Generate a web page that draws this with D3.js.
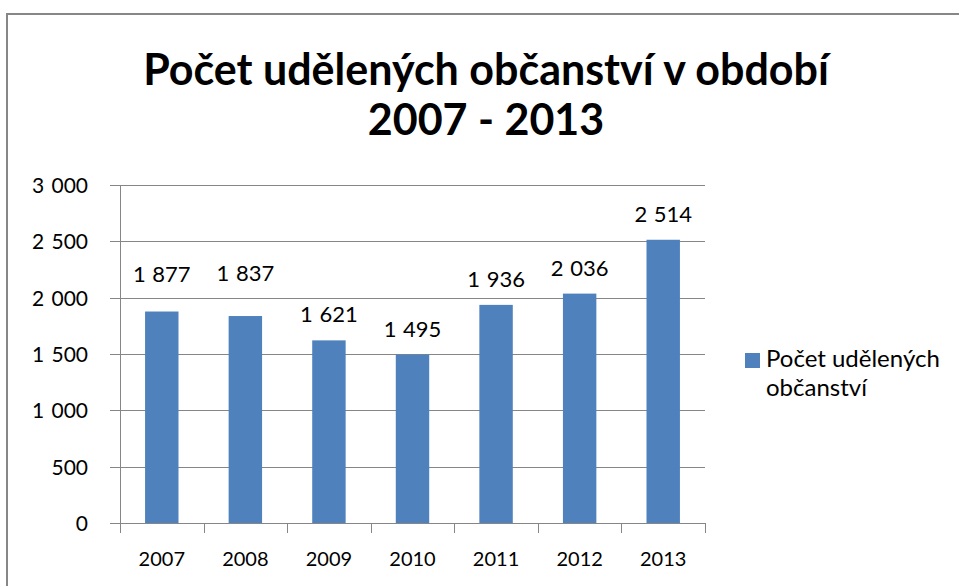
<!DOCTYPE html>
<html>
<head>
<meta charset="utf-8">
<script src="https://cdn.jsdelivr.net/npm/d3@7"></script>
<style>
  body { margin: 0; background: #fff; }
  svg { display: block; font-family: Lato, "Open Sans", sans-serif; }
</style>
</head>
<body>
<svg width="959" height="586"></svg>
<script>
const years = ["2007", "2008", "2009", "2010", "2011", "2012", "2013"];
const counts = [1877, 1837, 1621, 1495, 1936, 2036, 2514];
const yTicks = [0, 500, 1000, 1500, 2000, 2500, 3000];
const titleLines = ["Počet udělených občanství v období", "2007 - 2013"];
const legendLines = ["Počet udělených", "občanství"];

// the first two value labels were dragged up a bit in the original
const labelLift = [12, 17, 0, 0, 0, 0, 0];

const barColor = "#4F81BD";
const gridColor = "#868686";

let svg = d3.select("svg");

// chart frame
svg.append("rect")
  .attr("x", 7).attr("y", 14)
  .attr("width", 960).attr("height", 600)
  .attr("fill", "#fff")
  .attr("stroke", "#878787")
  .attr("stroke-width", 2);

// title
svg.append("text")
  .attr("text-anchor", "middle")
  .attr("font-weight", "bold")
  .attr("font-size", 43)
  .attr("fill", "#000")
  .selectAll("tspan")
  .data(titleLines)
  .join("tspan")
  .attr("x", 486)
  .attr("y", (d, i) => 85 + i * 50)
  .text(d => d);

const x = d3.scaleBand().domain(years).range([120, 705]).paddingInner(0.6).paddingOuter(0.3);
const xEdge = d3.scaleLinear().domain([0, years.length]).range([120, 705]);
const y = d3.scaleLinear().domain([0, 3000]).range([523, 185]);

// gridlines
svg.append("g")
  .selectAll("line")
  .data(yTicks)
  .join("line")
  .attr("x1", 110).attr("x2", 705)
  .attr("y1", d => Math.round(y(d)) + 0.5).attr("y2", d => Math.round(y(d)) + 0.5)
  .attr("stroke", gridColor)
  .attr("stroke-width", 1);

// y axis line
svg.append("line")
  .attr("x1", 120.5).attr("x2", 120.5)
  .attr("y1", y(3000)).attr("y2", y(0))
  .attr("stroke", gridColor);

// x tick marks at category edges
svg.append("g")
  .selectAll("line")
  .data(d3.range(years.length + 1))
  .join("line")
  .attr("x1", d => Math.round(xEdge(d)) + 0.5).attr("x2", d => Math.round(xEdge(d)) + 0.5)
  .attr("y1", y(0)).attr("y2", y(0) + 10)
  .attr("stroke", gridColor);

const fmt = v => d3.format(",")(v).replace(/,/g, " ");

// y labels
svg.append("g")
  .selectAll("text")
  .data(yTicks)
  .join("text")
  .attr("x", 88)
  .attr("y", d => y(d) + 8)
  .attr("text-anchor", "end")
  .attr("font-size", 21)
  .attr("word-spacing", 2)
  .attr("fill", "#000")
  .text(d => fmt(d));

// bars
svg.append("g")
  .selectAll("rect")
  .data(counts)
  .join("rect")
  .attr("x", (d, i) => x(years[i]))
  .attr("y", d => y(d))
  .attr("width", x.bandwidth())
  .attr("height", d => y(0) - y(d))
  .attr("fill", barColor);

// data labels
svg.append("g")
  .selectAll("text")
  .data(counts)
  .join("text")
  .attr("x", (d, i) => x(years[i]) + x.bandwidth() / 2)
  .attr("y", (d, i) => y(d) - 18 - labelLift[i])
  .attr("text-anchor", "middle")
  .attr("font-size", 22)
  .attr("word-spacing", 1)
  .attr("fill", "#000")
  .text(d => fmt(d));

// x labels
svg.append("g")
  .selectAll("text")
  .data(years)
  .join("text")
  .attr("x", d => x(d) + x.bandwidth() / 2)
  .attr("y", 566)
  .attr("text-anchor", "middle")
  .attr("font-size", 20)
  .attr("fill", "#000")
  .text(d => d);

// legend
svg.append("rect")
  .attr("x", 745).attr("y", 353)
  .attr("width", 15).attr("height", 15)
  .attr("fill", barColor);

svg.append("text")
  .attr("font-size", 24)
  .attr("fill", "#000")
  .selectAll("tspan")
  .data(legendLines)
  .join("tspan")
  .attr("x", 766)
  .attr("y", (d, i) => 367 + i * 29)
  .text(d => d);
</script>
</body>
</html>
